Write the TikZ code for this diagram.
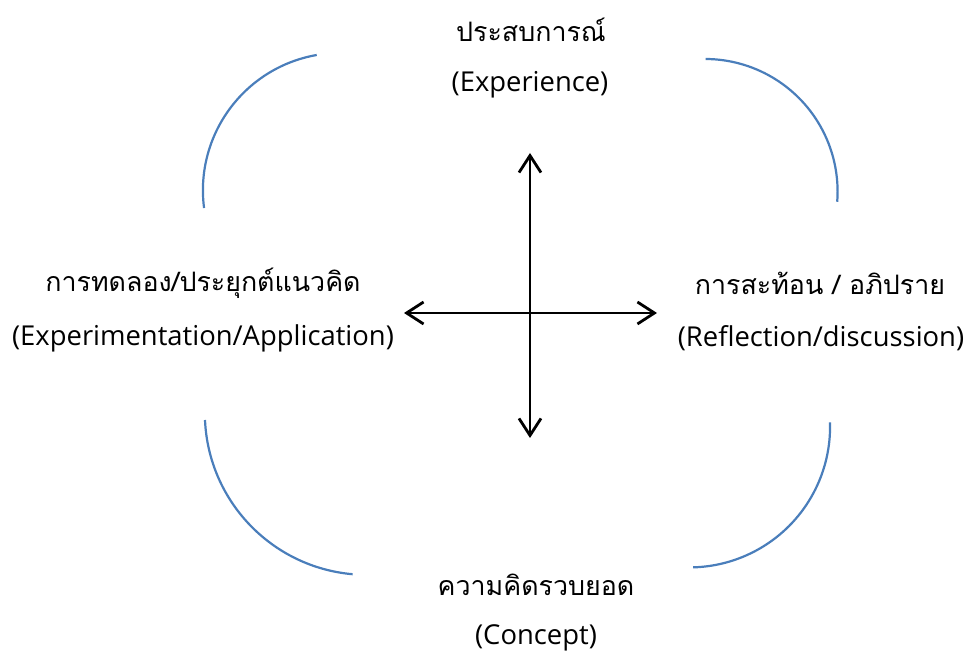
\documentclass[tikz,border=0pt]{standalone}
\usepackage{fontspec}
\setmainfont{Open Sans}
\newfontfamily\thaifont[Script=Thai]{Loma}
\usetikzlibrary{arrows.meta}
\definecolor{arcblue}{HTML}{4A7EBB}
\tikzset{
  lbl/.style={inner sep=0pt, anchor=center, font=\fontsize{27.4}{32}\selectfont},
  thlbl/.style={inner sep=0pt, anchor=center, font=\thaifont\fontsize{26.8}{32}\selectfont},
  cyc/.style={draw=arcblue, line width=2.2pt},
  axis/.style={draw=black, line width=2.8pt, {Straight Barb[length=17pt,width=22pt,line join=miter]}-{Straight Barb[length=17pt,width=22pt,line join=miter]}}
}
\begin{document}
\begin{tikzpicture}[x=1pt,y=1pt]
\useasboundingbox (0,0) rectangle (967,658);
% labels
\node[thlbl] (expth) at (531,628) {ประสบการณ์};
\node[lbl] (expen) at (530,573) {(Experience)};
\node[thlbl] (appth) at (203,375) {การทดลอง/ประยุกต์แนวคิด};
\node[lbl] (appen) at (203,320) {(Experimentation/Application)};
\node[thlbl] (refth) at (820,375) {การสะท้อน / อภิปราย};
\node[lbl] (refen) at (821,320) {(Reflection/discussion)};
\node[thlbl] (conth) at (536,73) {ความคิดรวบยอด};
\node[lbl] (conen) at (536,20) {(Concept)};
% axes
\coordinate (top) at (530,505);
\coordinate (bot) at (530,220);
\coordinate (lft) at (404,345);
\coordinate (rgt) at (657,345);
\draw[axis] (bot) -- (top);
\draw[axis] (lft) -- (rgt);
% cycle arcs
\draw[cyc] (316.7,603) arc[start angle=99.9, end angle=187.4, radius=137.4];
\draw[cyc] (705.7,599) arc[start angle=89.7, end angle=-4.4, radius=132.6];
\draw[cyc] (205,238) arc[start angle=182.5, end angle=265, radius=161.9];
\draw[cyc] (830,235.7) arc[start angle=1.8, end angle=-88.5, radius=140.7];
\end{tikzpicture}
\end{document}
